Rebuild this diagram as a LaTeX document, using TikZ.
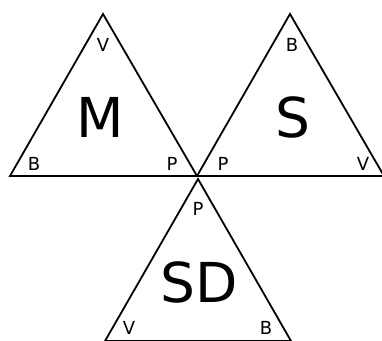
\documentclass[tikz,border=0pt]{standalone}
\usepackage{fontspec}
\setmainfont{DejaVu Sans}
\usetikzlibrary{positioning}
\tikzset{
  tri/.style={draw=black, line width=1.8pt, line join=miter},
  big/.style={font=\fontsize{55}{60}\selectfont, inner sep=0pt},
  corner/.style={font=\fontsize{18}{20}\selectfont, inner sep=0pt}
}

\begin{document}
\begin{tikzpicture}[x=1pt, y=-1pt]
  \useasboundingbox (0,0) rectangle (382,340);

  % Vertices
  \coordinate (mtop) at (103,14);
  \coordinate (mleft) at (10,176);
  \coordinate (mid) at (197,176);
  \coordinate (stop) at (290,14);
  \coordinate (sright) at (384,176);
  \coordinate (sdtop) at (198,179);
  \coordinate (sdleft) at (105,341);
  \coordinate (sdright) at (291,341);

  % Triangles
  \draw[tri] (mtop) -- (mleft) -- (mid) -- cycle;
  \draw[tri] (stop) -- (mid) -- (sright) -- cycle;
  \draw[tri] (sdtop) -- (sdleft) -- (sdright) -- cycle;

  % M
  \node[big] (m) at (100,117) {M};
  \node[corner] (mv) at (103,45) {V};
  \node[corner] (mb) at (34,164) {B};
  \node[corner] (mp) at (172,164) {P};

  % S
  \node[big] (s) at (293,117) {S};
  \node[corner] (sb) at (292,45) {B};
  \node[corner] (sp) at (223,164) {P};
  \node[corner] (sv) at (363,164) {V};

  % SD
  \node[big] (sd) at (199,282) {SD};
  \node[corner] (sdp) at (198,209) {P};
  \node[corner] (sdv) at (129,328) {V};
  \node[corner] (sdb) at (266,328) {B};
\end{tikzpicture}
\end{document}
